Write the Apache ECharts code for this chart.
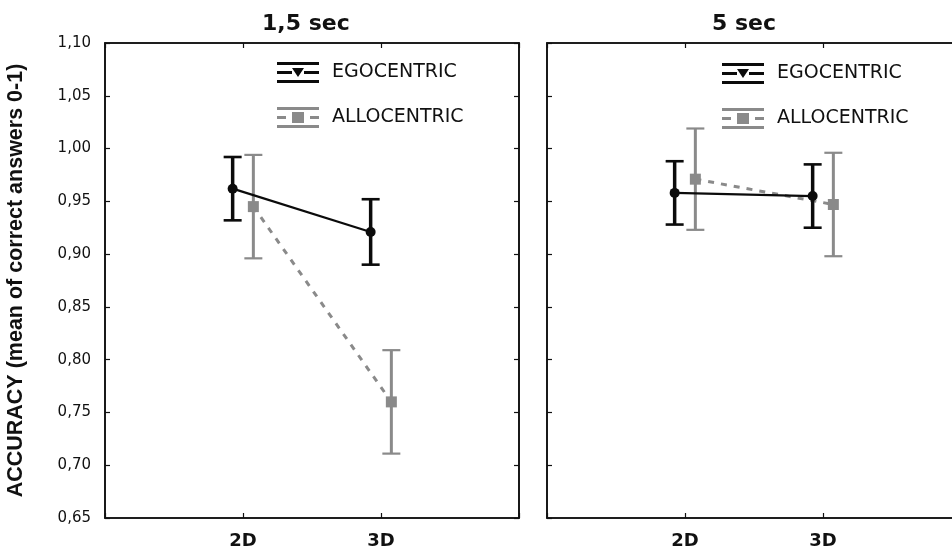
<!DOCTYPE html>
<html>
<head>
<meta charset="utf-8">
<script src="https://cdn.jsdelivr.net/npm/echarts@6/dist/echarts.min.js"></script>
<style>html,body{margin:0;padding:0;background:#fff}#c{width:952px;height:549px}</style>
</head>
<body>
<div id="c"></div>
<script>
// ---- data ----
const categories = ['2D', '3D'];
const panelTitles = ['1,5 sec', '5 sec'];
const seriesNames = ['EGOCENTRIC', 'ALLOCENTRIC'];
const ego15Mean = [0.962, 0.921];
const ego15Err  = [0.030, 0.031];
const allo15Mean = [0.945, 0.760];
const allo15Err  = [0.049, 0.049];
const ego5Mean = [0.958, 0.955];
const ego5Err  = [0.030, 0.030];
const allo5Mean = [0.971, 0.947];
const allo5Err  = [0.048, 0.049];
const yMin = 0.65, yMax = 1.10, yStep = 0.05;

// ---- styling ----
const EGO = '#0b0b0b', ALLO = '#8a8a8a';
const OFF = 0.075;
const catPos = i => i + 1;

function errRender(color, lw, capW, capLw) {
  return function (params, api) {
    const x = api.value(0), lo = api.value(1), hi = api.value(2);
    const a = api.coord([x, hi]), b = api.coord([x, lo]);
    return {type: 'group', children: [
      {type: 'line', shape: {x1: a[0], y1: a[1], x2: b[0], y2: b[1]}, style: {stroke: color, lineWidth: lw}},
      {type: 'line', shape: {x1: a[0] - capW / 2, y1: a[1], x2: a[0] + capW / 2, y2: a[1]}, style: {stroke: color, lineWidth: capLw}},
      {type: 'line', shape: {x1: b[0] - capW / 2, y1: b[1], x2: b[0] + capW / 2, y2: b[1]}, style: {stroke: color, lineWidth: capLw}}
    ]};
  };
}

function meanData(means, off) { return categories.map((c, i) => [catPos(i) + off, means[i]]); }
function errData(means, errs, off) { return categories.map((c, i) => [catPos(i) + off, means[i] - errs[i], means[i] + errs[i]]); }

const grids = [
  {left: 105, top: 43, width: 414, height: 475},
  {left: 547, top: 43, width: 414, height: 475}
];
const xAxes = [], yAxes = [];
grids.forEach((g, gi) => {
  const base = {type: 'value', gridIndex: gi, min: 0, max: 3, interval: 1,
    axisLine: {show: true, onZero: false, lineStyle: {color: '#111', width: 1.6}},
    axisTick: {show: true, inside: true, length: 5, lineStyle: {color: '#111', width: 1.2}},
    splitLine: {show: false}};
  xAxes.push(Object.assign({}, base, {position: 'bottom',
    axisLabel: {show: true, margin: 14, color: '#111', fontFamily: 'DejaVu Sans', fontWeight: 'bold', fontSize: 18,
      formatter: v => (v >= 1 && v <= categories.length && Math.abs(v - Math.round(v)) < 1e-6) ? categories[Math.round(v) - 1] : ''}}));
  xAxes.push(Object.assign({}, base, {position: 'top', axisLabel: {show: false}}));
  const ybase = {type: 'value', gridIndex: gi, min: yMin, max: yMax, interval: yStep,
    axisLine: {show: true, onZero: false, lineStyle: {color: '#111', width: 1.6}},
    axisTick: {show: true, inside: true, length: 5, lineStyle: {color: '#111', width: 1.2}},
    splitLine: {show: false}};
  yAxes.push(Object.assign({}, ybase, {position: 'left',
    axisLabel: {show: gi === 0, margin: 14, color: '#111', fontFamily: 'DejaVu Sans', fontSize: 15,
      formatter: v => v.toFixed(2).replace('.', ',')},
    name: gi === 0 ? 'ACCURACY (mean of correct answers 0-1)' : '',
    nameLocation: 'middle', nameRotate: 90, nameGap: 78,
    nameTextStyle: {color: '#111', fontFamily: 'Liberation Sans', fontWeight: 'bold', fontSize: 21.5}}));
  yAxes.push(Object.assign({}, ybase, {position: 'right', axisLabel: {show: false}}));
});

function panelSeries(gi, egoM, egoE, alloM, alloE) {
  const xi = gi * 2, yi = gi * 2;
  return [
    {type: 'custom', name: 'allo-err-' + gi, xAxisIndex: xi, yAxisIndex: yi, renderItem: errRender(ALLO, 3, 18, 2.2),
      data: errData(alloM, alloE, OFF), z: 2, silent: true},
    {type: 'line', name: seriesNames[1], xAxisIndex: xi, yAxisIndex: yi, data: meanData(alloM, OFF),
      symbol: 'rect', symbolSize: 11, itemStyle: {color: ALLO},
      lineStyle: {color: ALLO, width: 3, type: [6, 7]}, z: 3, animation: false},
    {type: 'custom', name: 'ego-err-' + gi, xAxisIndex: xi, yAxisIndex: yi, renderItem: errRender(EGO, 3.5, 18, 2.6),
      data: errData(egoM, egoE, -OFF), z: 4, silent: true},
    {type: 'line', name: seriesNames[0], xAxisIndex: xi, yAxisIndex: yi, data: meanData(egoM, -OFF),
      symbol: 'circle', symbolSize: 10, itemStyle: {color: EGO},
      lineStyle: {color: EGO, width: 2.2, type: 'solid'}, z: 5, animation: false}
  ];
}

const egoIcon = 'path://M0,0H42V3H0Z M0,9H15V12H0Z M27,9H42V12H27Z M0,18H42V21H0Z M15,6H27L21,15Z';
const alloIcon = 'path://M0,0H42V3H0Z M0,9H9V12H0Z M33,9H42V12H33Z M0,18H42V21H0Z M15,5H27V16H15Z';

function legendAt(left, top) {
  return {show: true, orient: 'vertical', left: left, top: top, itemWidth: 42, itemHeight: 21, itemGap: 24,
    selectedMode: false, padding: 0,
    itemStyle: {borderWidth: 0},
    textStyle: {color: '#111', fontFamily: 'DejaVu Sans', fontSize: 19, padding: [0, 0, 0, 8]},
    data: [{name: seriesNames[0], icon: egoIcon}, {name: seriesNames[1], icon: alloIcon}]};
}

const option = {
  backgroundColor: '#fff',
  animation: false,
  title: [
    {text: panelTitles[0], left: 257, top: 8, textStyle: {color: '#111', fontFamily: 'DejaVu Sans', fontWeight: 'bold', fontSize: 22}},
    {text: panelTitles[1], left: 707, top: 8, textStyle: {color: '#111', fontFamily: 'DejaVu Sans', fontWeight: 'bold', fontSize: 22}}
  ],
  legend: [legendAt(277, 62), legendAt(722, 63)],
  grid: grids.map(g => Object.assign({show: true, borderColor: '#111', borderWidth: 1.6, backgroundColor: '#fff',
    outerBoundsMode: 'none', containLabel: false}, g)),
  xAxis: xAxes,
  yAxis: yAxes,
  series: [].concat(
    panelSeries(0, ego15Mean, ego15Err, allo15Mean, allo15Err),
    panelSeries(1, ego5Mean, ego5Err, allo5Mean, allo5Err)
  )
};
const chart = echarts.init(document.getElementById('c'), null, {renderer: 'canvas'});
chart.setOption(option);
</script>
</body>
</html>
